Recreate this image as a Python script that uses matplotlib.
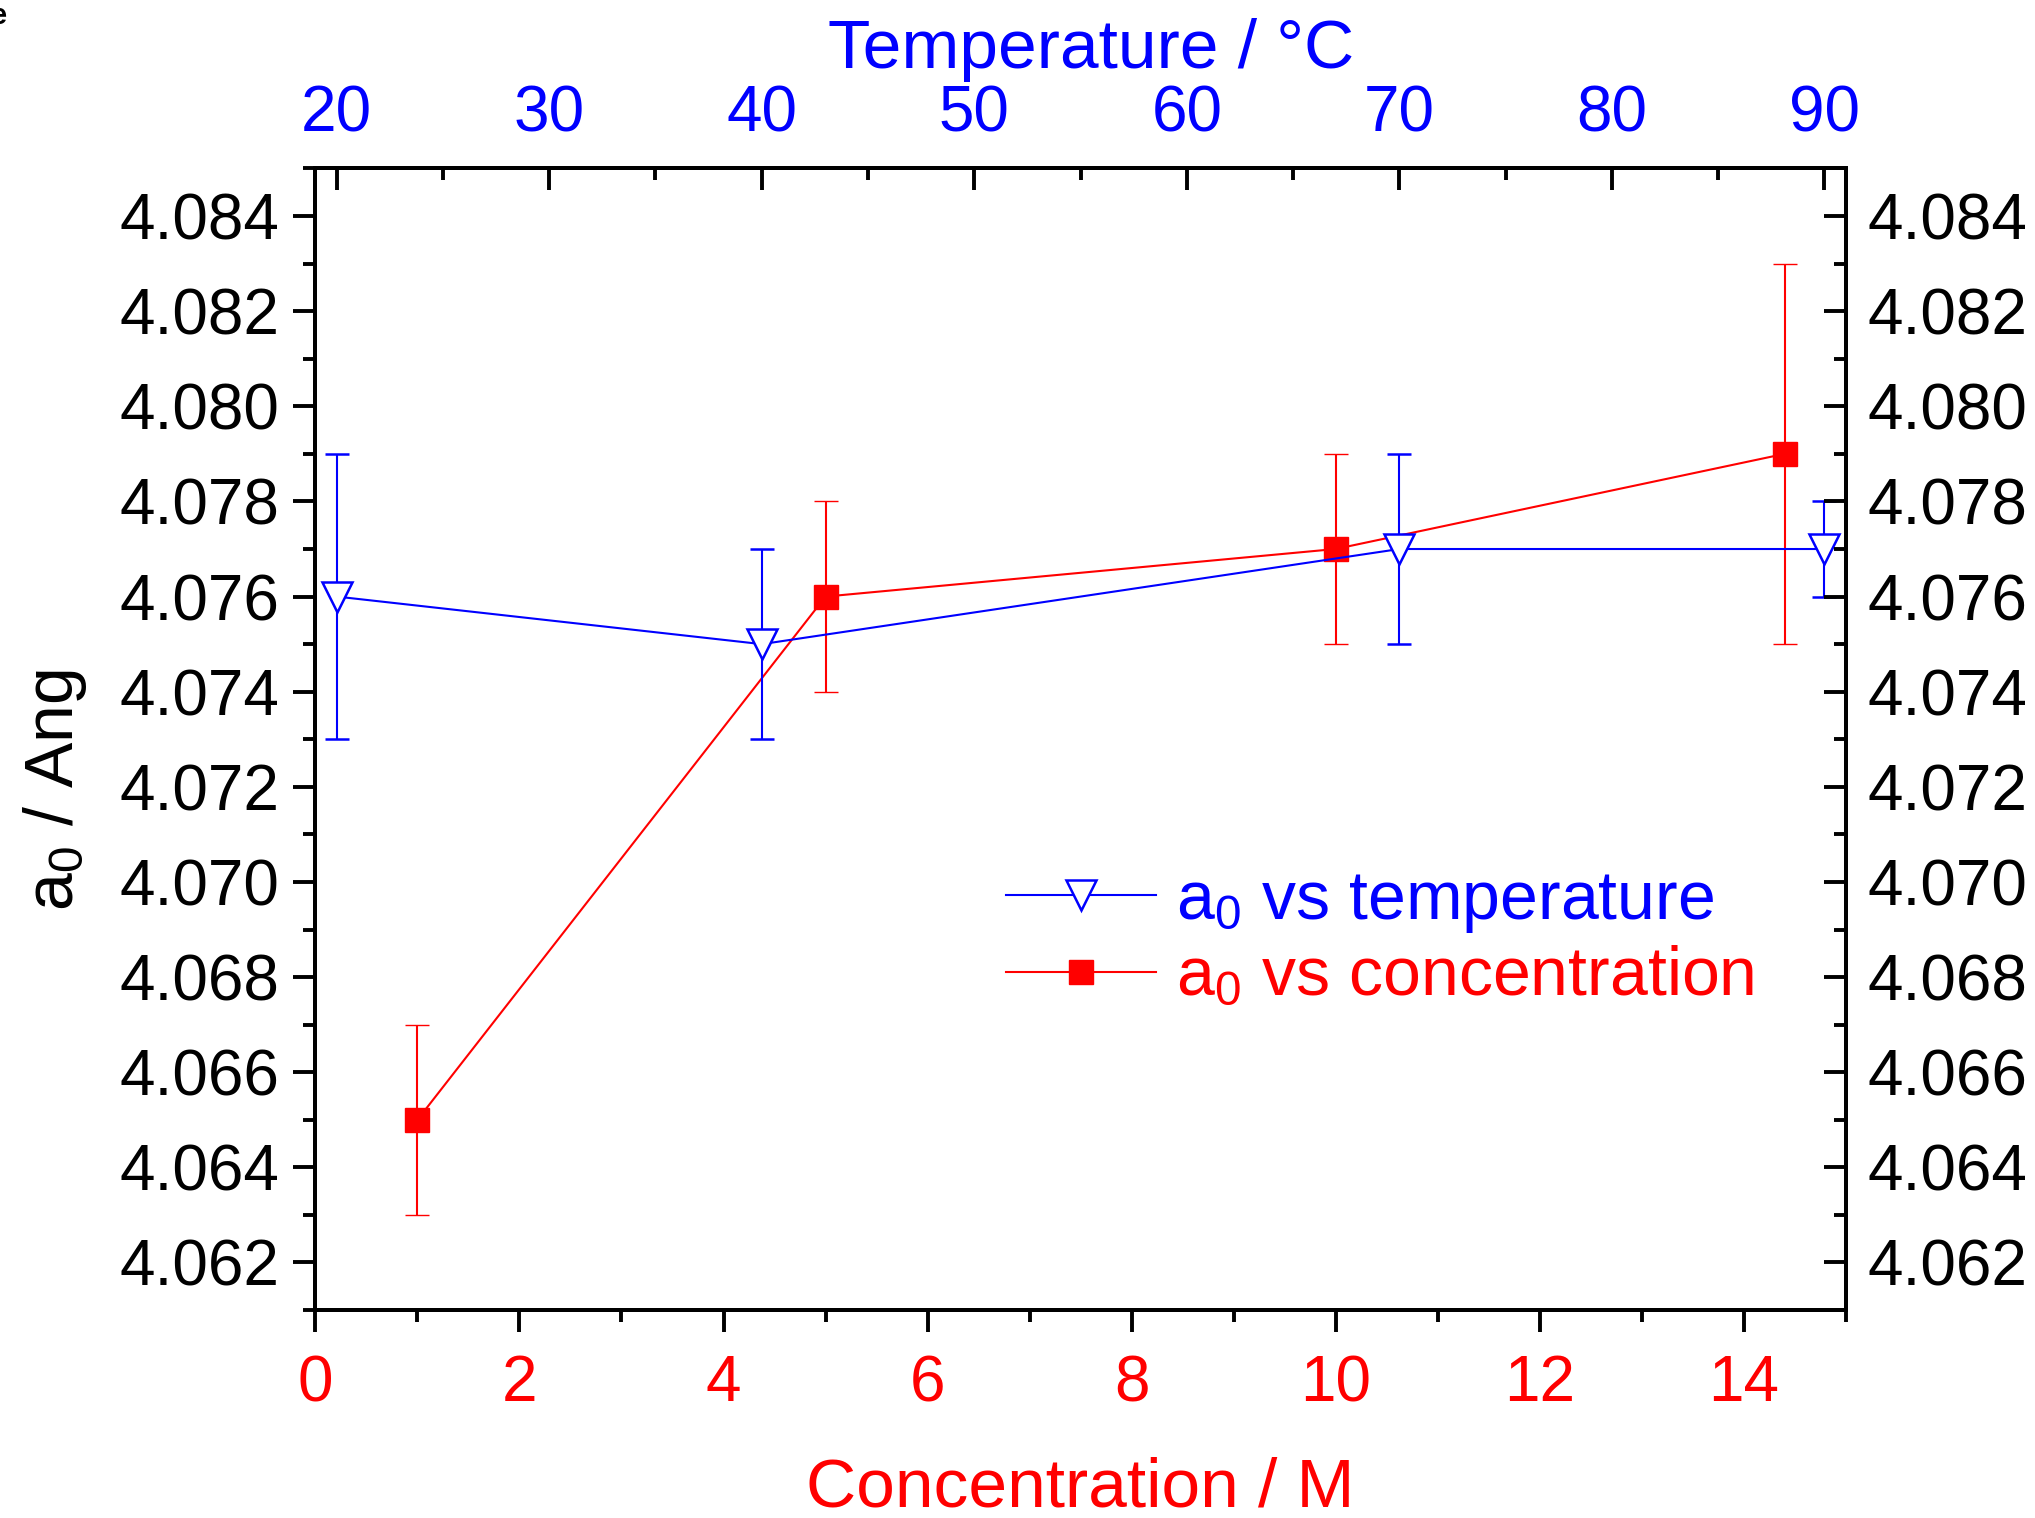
import numpy as np
import matplotlib
matplotlib.use("Agg")
import matplotlib.pyplot as plt
from matplotlib.ticker import MultipleLocator, FormatStrFormatter

plt.rcParams['font.family'] = ['Liberation Sans', 'DejaVu Sans']
plt.rcParams['mathtext.default'] = 'regular'

# lattice parameter vs concentration (bottom axis, red)
conc = [1, 5, 10, 14.4]
a0_conc = [4.065, 4.076, 4.077, 4.079]
err_conc = [0.002, 0.002, 0.002, 0.004]

# lattice parameter vs temperature (top axis, blue)
temp = [20, 40, 70, 90]
a0_temp = [4.076, 4.075, 4.077, 4.077]
err_temp = [0.003, 0.002, 0.002, 0.001]

fig = plt.figure(figsize=(20.35, 15.18), dpi=100)
ax = fig.add_axes([0.155, 0.137, 0.752, 0.752])
ax2 = ax.twiny()

tick_fs = 46
label_fs = 50

eb_c = ax.errorbar(conc, a0_conc, yerr=err_conc, color='red', marker='s', ms=17,
                   mec='red', mew=1, lw=1.5, elinewidth=1.5, capsize=8.5, capthick=1.5)
eb_t = ax2.errorbar(temp, a0_temp, yerr=err_temp, color='blue', marker='v', ms=22,
                    mfc='white', mec='blue', mew=1.8, lw=1.5, elinewidth=1.5,
                    capsize=8.5, capthick=1.5)

ax.set_xlim(0, 15)
ax.set_ylim(4.061, 4.085)
ax2.set_xlim(19, 91)

ax.xaxis.set_major_locator(MultipleLocator(2))
ax.xaxis.set_minor_locator(MultipleLocator(1))
ax.yaxis.set_major_locator(MultipleLocator(0.002))
ax.yaxis.set_minor_locator(MultipleLocator(0.001))
ax.yaxis.set_major_formatter(FormatStrFormatter('%.3f'))
ax2.xaxis.set_major_locator(MultipleLocator(10))
ax2.xaxis.set_minor_locator(MultipleLocator(5))

for sp in list(ax.spines.values()) + list(ax2.spines.values()):
    sp.set_linewidth(2.8)

# bottom & left ticks outward
ax.tick_params(axis='x', which='both', direction='out', width=2.8,
               labelsize=tick_fs, labelcolor='red', pad=16)
ax.tick_params(axis='y', which='both', direction='out', width=2.8,
               labelsize=tick_fs, pad=10)
ax.tick_params(which='major', length=16)
ax.tick_params(which='minor', length=8.5)

# top axis ticks inward
ax2.tick_params(axis='x', which='both', direction='in', width=2.8,
                labelsize=tick_fs, labelcolor='blue', pad=17)
ax2.tick_params(axis='x', which='major', length=16)
ax2.tick_params(axis='x', which='minor', length=8.5)

ax.set_xlabel('Concentration / M', fontsize=label_fs, color='red', labelpad=30)
ax.set_ylabel(r'a$_0$ / Ang', fontsize=49, labelpad=22)
ax.yaxis.label.set_y(0.456)
ax2.set_xlabel('Temperature / °C', fontsize=label_fs, color='blue', labelpad=12)
ax2.xaxis.label.set_x(0.5068)

# right-side y axis, ticks inward
axr = ax.twinx()
axr.set_ylim(ax.get_ylim())
axr.yaxis.set_major_locator(MultipleLocator(0.002))
axr.yaxis.set_minor_locator(MultipleLocator(0.001))
axr.yaxis.set_major_formatter(FormatStrFormatter('%.3f'))
axr.tick_params(axis='y', which='both', direction='in', width=2.8,
                labelsize=tick_fs, pad=16)
axr.tick_params(axis='y', which='major', length=16)
axr.tick_params(axis='y', which='minor', length=8.5)
for sp in axr.spines.values():
    sp.set_linewidth(2.8)

leg = axr.legend([eb_t[0], eb_c[0]],
                 [r'a$_0$ vs temperature', r'a$_0$ vs concentration'],
                 loc='upper left', bbox_to_anchor=(0.4335, 0.41),
                 frameon=False, fontsize=49, handlelength=2.2,
                 handletextpad=0.3, labelspacing=0.15, borderaxespad=0)
for txt, c in zip(leg.get_texts(), ['blue', 'red']):
    txt.set_color(c)

fig.text(-0.0045, 0.999, 'e', fontsize=21, fontweight='bold', va='top', ha='left')

fig.savefig('out.png', dpi=100)
